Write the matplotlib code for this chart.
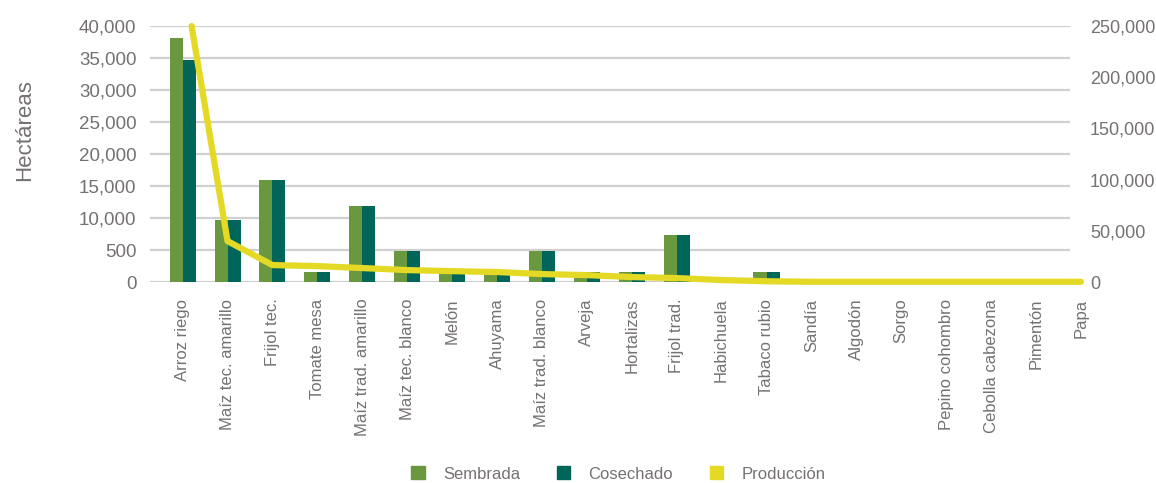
import matplotlib
matplotlib.use("Agg")
import matplotlib.pyplot as plt
from matplotlib.patches import Patch
import numpy as np

plt.rcParams['font.family'] = ['Liberation Sans', 'DejaVu Sans']

categories = ["Arroz riego", "Maíz tec. amarillo", "Frijol tec.", "Tomate mesa",
              "Maíz trad. amarillo", "Maíz tec. blanco", "Melón", "Ahuyama",
              "Maíz trad. blanco", "Arveja", "Hortalizas", "Frijol trad.",
              "Habichuela", "Tabaco rubio", "Sandía", "Algodón", "Sorgo",
              "Pepino cohombro", "Cebolla cabezona", "Pimentón", "Papa"]
sembrada = [38100, 9700, 15900, 1600, 11900, 4800, 1500, 1400, 4800, 1600, 1600,
            7300, 300, 1600, 100, 100, 100, 100, 100, 100, 100]
cosechado = [34700, 9700, 15900, 1600, 11900, 4800, 1500, 1400, 4800, 1600, 1600,
             7300, 300, 1600, 100, 100, 100, 100, 100, 100, 100]
produccion = [250000, 40000, 16600, 15600, 13700, 11700, 10700, 9800, 7800, 6800,
              4900, 3900, 2000, 800, 300, 300, 300, 300, 300, 300, 300]
left_ticks = [0, 5000, 10000, 15000, 20000, 25000, 30000, 35000, 40000]
left_labels = ["0", "500", "10,000", "15,000", "20,000", "25,000", "30,000", "35,000", "40,000"]
right_ticks = [0, 50000, 100000, 150000, 200000, 250000]
right_labels = ["0", "50,000", "100,000", "150,000", "200,000", "250,000"]

c_semb = "#6A983E"
c_cos = "#00665A"
c_prod = "#E4D924"
txt = "#767171"
grid = "#D0D0D0"

fig = plt.figure(figsize=(11.56, 4.83), dpi=100)
ax = fig.add_axes([0.13, 0.416, 0.807, 0.53])
x = np.arange(len(categories))
w = 0.29
ax.bar(x - w/2, sembrada, width=w, color=c_semb, zorder=2)
ax.bar(x + w/2, cosechado, width=w, color=c_cos, zorder=2)
ax.set_ylim(0, 40000)
ax.set_xlim(-0.72, 20.05)
ax.set_yticks(left_ticks)
ax.set_yticklabels(left_labels)
for yv in left_ticks:
    ax.axhline(yv, color=grid, lw=1.6, zorder=0, xmax=0.985)
for s in ax.spines.values():
    s.set_visible(False)
ax.tick_params(axis='y', length=0, labelsize=13.5, labelcolor=txt, pad=10)
ax.set_xticks(x)
ax.set_xticklabels(categories, rotation=90, fontsize=12, color=txt)
ax.tick_params(axis='x', length=0, pad=12)
fig.text(25 / 1156, 1 - 130 / 483, "Hectáreas", rotation=90, fontsize=16, color=txt,
         ha='center', va='center')

ax2 = ax.twinx()
ax2.plot(x + 0.2 * (x == 0), produccion, color=c_prod, lw=4.5, solid_capstyle='round',
         zorder=3, clip_on=False)
ax2.set_ylim(0, 250000)
ax2.set_yticks(right_ticks)
ax2.set_yticklabels(right_labels)
ax2.tick_params(axis='y', length=0, labelsize=13, labelcolor=txt, pad=5)
for s in ax2.spines.values():
    s.set_visible(False)

handles = [Patch(color=c_semb, label="Sembrada"), Patch(color=c_cos, label="Cosechado"),
           Patch(color=c_prod, label="Producción")]
fig.legend(handles=handles, loc='center', bbox_to_anchor=(0.535, 1 - 474 / 483), ncol=3,
           frameon=False, fontsize=12, labelcolor=txt, handlelength=0.8, handleheight=0.8,
           columnspacing=2.2, handletextpad=1.1)

fig.savefig("out.png", dpi=100)
